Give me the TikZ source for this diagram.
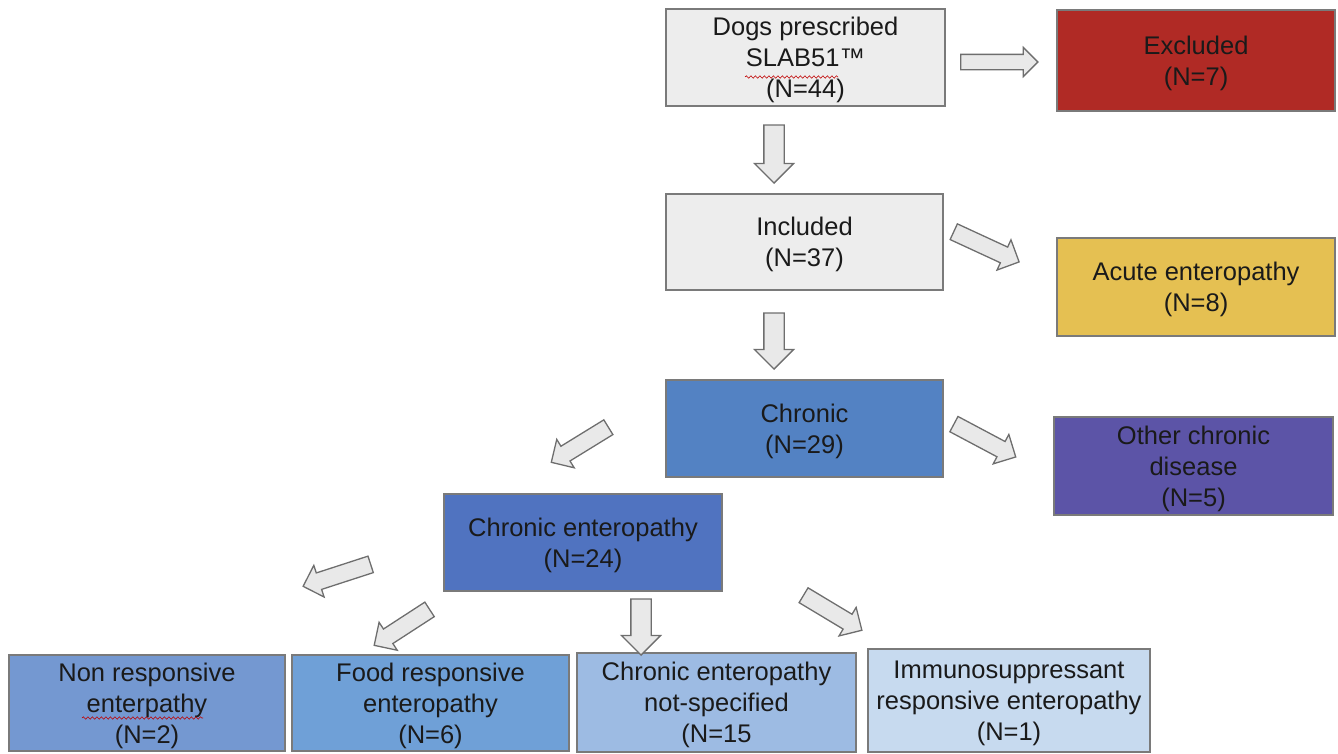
\documentclass[tikz,border=0pt]{standalone}
\usepackage{fontspec}
\setmainfont{Liberation Sans}
\usetikzlibrary{shapes.arrows,decorations.pathmorphing}
\definecolor{txt}{HTML}{1A1A1A}
\definecolor{bordergray}{HTML}{7A7A7A}
\definecolor{boxgray}{HTML}{EDEDED}
\definecolor{cexcl}{HTML}{B02A25}
\definecolor{cacute}{HTML}{E5C052}
\definecolor{cchron}{HTML}{5382C3}
\definecolor{cother}{HTML}{5C54A7}
\definecolor{cce}{HTML}{5073C0}
\definecolor{cnon}{HTML}{7498D1}
\definecolor{cfood}{HTML}{6FA0D7}
\definecolor{cnotsp}{HTML}{9DBBE3}
\definecolor{cimm}{HTML}{C7DAEF}
\definecolor{arrfill}{HTML}{E9E9E9}
\definecolor{arrdraw}{HTML}{6E6E6E}
\tikzset{
  box/.style={draw=bordergray, line width=1.4pt, inner sep=2pt, align=center,
    text=txt, text depth=0pt, font=\fontsize{25.5}{31}\selectfont},
  blockarrow/.style={single arrow, draw=arrdraw, fill=arrfill, line width=1.3pt,
    inner xsep=0pt, single arrow tip angle=90},
  harrow/.style={blockarrow, inner ysep=7pt, single arrow head extend=7pt, minimum height=77pt},
  varrow/.style={blockarrow, inner ysep=9.5pt, single arrow head extend=9.5pt},
  darrow/.style={blockarrow, inner ysep=8pt, single arrow head extend=8pt},
  squig/.style={draw=red!75!black, line width=0.6pt, decorate,
    decoration={snake, amplitude=1.2pt, segment length=4.5pt}}
}
\begin{document}
\begin{tikzpicture}[x=1pt,y=-1pt]
\useasboundingbox (0,0) rectangle (1338,753);
% boxes
\node[box, fill=boxgray, minimum width=279pt, minimum height=97pt] (dogs) at (805.5,57.5)
  {Dogs prescribed\\SLAB51\texttrademark\\(N=44)};
\node[box, fill=cexcl, minimum width=278pt, minimum height=101pt] (excl) at (1196,60.5)
  {Excluded\\(N=7)};
\node[box, fill=boxgray, minimum width=277pt, minimum height=96pt] (incl) at (804.5,242)
  {Included\\(N=37)};
\node[box, fill=cacute, minimum width=278pt, minimum height=98pt] (acute) at (1196,287)
  {Acute enteropathy\\(N=8)};
\node[box, fill=cchron, minimum width=277pt, minimum height=97pt] (chron) at (804.5,428.5)
  {Chronic\\(N=29)};
\node[box, fill=cother, minimum width=279pt, minimum height=98pt] (other) at (1193.5,466)
  {Other chronic\\disease\\(N=5)};
\node[box, fill=cce, minimum width=278pt, minimum height=97pt] (ce) at (583,542.5)
  {Chronic enteropathy\\(N=24)};
\node[box, fill=cnon, minimum width=276pt, minimum height=96pt] (non) at (147,703)
  {Non responsive\\enterpathy\\(N=2)};
\node[box, fill=cfood, minimum width=277pt, minimum height=96pt] (food) at (430.5,703)
  {Food responsive\\enteropathy\\(N=6)};
\node[box, fill=cnotsp, minimum width=279pt, minimum height=99pt] (notsp) at (716.5,702.5)
  {Chronic enteropathy\\not-specified\\(N=15};
\node[box, fill=cimm, minimum width=282pt, minimum height=103pt] (imm) at (1009,700.5)
  {Immunosuppressant\\responsive enteropathy\\(N=1)};
% spell-check squiggles
\coordinate (sq1a) at (745,77); \coordinate (sq1b) at (838,77);
\draw[squig] (sq1a) -- (sq1b);
\coordinate (sq2a) at (82,718); \coordinate (sq2b) at (203,718);
\draw[squig] (sq2a) -- (sq2b);
% block arrows
\node[harrow] (a1) at (995.5,62) {};
\node[varrow, minimum height=58pt, rotate=-90] (a2) at (774,149) {};
\node[darrow, minimum height=72pt, rotate=-24.8] (a3) at (982.5,245) {};
\node[varrow, minimum height=56pt, rotate=-90] (a4) at (774,336) {};
\node[darrow, minimum height=70pt, rotate=-28] (a5) at (981,438.5) {};
\node[darrow, minimum height=67pt, rotate=211.6] (a6) at (583.5,442.5) {};
\node[darrow, minimum height=71pt, rotate=198] (a7) at (341,574) {};
\node[darrow, minimum height=66pt, rotate=213] (a8) at (405.5,625) {};
\node[varrow, minimum height=56pt, rotate=-90] (a9) at (641,622) {};
\node[darrow, minimum height=68pt, rotate=-31] (a10) at (829,610.5) {};
\end{tikzpicture}
\end{document}
